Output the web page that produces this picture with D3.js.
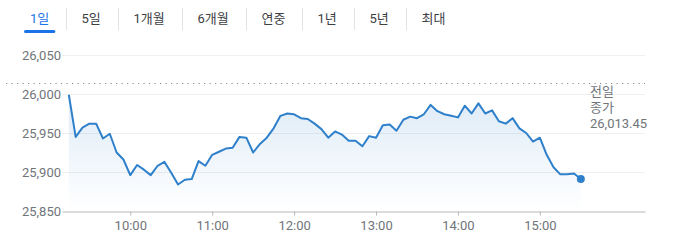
<!DOCTYPE html>
<html>
<head>
<meta charset="utf-8">
<script src="https://cdn.jsdelivr.net/npm/d3@7"></script>
<style>
	body { margin: 0; background: #fff; }
	svg { display: block; font-family: Roboto, 'Noto Sans CJK KR', sans-serif; }
</style>
</head>
<body>
<svg id="chart" width="680" height="244"></svg>
<script>
/*=================
=== Data
=================*/
const tabs = ['1일', '5일', '1개월', '6개월', '연중', '1년', '5년', '최대'];
const activeTab = '1일';

const times = [
	'09:15','09:20','09:25','09:30','09:35','09:40','09:45','09:50','09:55',
	'10:00','10:05','10:10','10:15','10:20','10:25','10:30','10:35','10:40','10:45','10:50','10:55',
	'11:00','11:05','11:10','11:15','11:20','11:25','11:30','11:35','11:40','11:45','11:50','11:55',
	'12:00','12:05','12:10','12:15','12:20','12:25','12:30','12:35','12:40','12:45','12:50','12:55',
	'13:00','13:05','13:10','13:15','13:20','13:25','13:30','13:35','13:40','13:45','13:50','13:55',
	'14:00','14:05','14:10','14:15','14:20','14:25','14:30','14:35','14:40','14:45','14:50','14:55',
	'15:00','15:05','15:10','15:15','15:20','15:25','15:30'
];
const prices = [
	25999, 25945, 25957, 25962, 25962, 25943, 25949, 25925, 25916,
	25896, 25909, 25903, 25896, 25908, 25913, 25899, 25884, 25890, 25891, 25914, 25908,
	25922, 25926, 25930, 25931, 25945, 25944, 25925, 25936, 25944, 25956, 25972, 25975,
	25974, 25969, 25968, 25962, 25955, 25944, 25952, 25948, 25940, 25940, 25933, 25946,
	25944, 25960, 25961, 25953, 25967, 25971, 25969, 25974, 25986, 25978, 25974, 25972,
	25970, 25985, 25975, 25988, 25975, 25979, 25965, 25962, 25969, 25956, 25950, 25939,
	25944, 25922, 25906, 25897, 25897, 25898, 25891
];
const prevClose = 26013.45;
const prevCloseLabel = ['전일', '종가'];
const yTicks = [25850, 25900, 25950, 26000, 26050];
const xTicks = ['10:00', '11:00', '12:00', '13:00', '14:00', '15:00'];
const xDomain = ['09:10', '16:17'];

/*=================
=== Setup
=================*/
const parseTime = d3.timeParse('%H:%M');
const data = times.map((t, i) => ({ time: parseTime(t), price: prices[i] }));

const blue = '#2f80cb';
const grey = '#70757a';

const plot = { left: 62, right: 645, top: 55, bottom: 211 };

const svg = d3.select('#chart');

const xScale = d3.scaleTime()
	.domain(xDomain.map(parseTime))
	.range([plot.left, plot.right]);
const yScale = d3.scaleLinear()
	.domain([yTicks[0], yTicks[yTicks.length - 1]])
	.range([plot.bottom, plot.top]);

/*=================
=== Tabs
=================*/
const tabG = svg.append('g');
let tx = 30;
tabs.forEach((label, i) => {
	const t = tabG.append('text')
		.attr('x', tx)
		.attr('y', 23)
		.attr('font-size', 13)
		.attr('fill', label === activeTab ? '#1a73e8' : '#3c4043')
		.text(label);
	const w = t.node().getComputedTextLength();
	if (label === activeTab) {
		tabG.append('rect')
			.attr('x', tx - 6)
			.attr('y', 30)
			.attr('width', w + 12)
			.attr('height', 3)
			.attr('rx', 1.5)
			.attr('fill', '#1a73e8');
	}
	if (i < tabs.length - 1) {
		const sx = Math.round(tx + w + 17) + 0.5;
		tabG.append('line')
			.attr('x1', sx).attr('x2', sx)
			.attr('y1', 8).attr('y2', 30)
			.attr('stroke', '#e3e3e3');
		tx = sx + 15;
	}
});

/*=================
=== Grid and axes
=================*/
svg.append('g')
	.selectAll('line')
	.data(yTicks.slice(1))
	.enter()
	.append('line')
		.attr('x1', plot.left)
		.attr('x2', plot.right)
		.attr('y1', d => Math.round(yScale(d)) + 0.5)
		.attr('y2', d => Math.round(yScale(d)) + 0.5)
		.attr('stroke', '#efefef');

svg.append('g')
	.selectAll('text')
	.data(yTicks)
	.enter()
	.append('text')
		.attr('x', plot.left - 1)
		.attr('y', d => yScale(d))
		.attr('dy', '0.35em')
		.attr('text-anchor', 'end')
		.attr('font-size', 13)
		.attr('fill', grey)
		.text(d => d3.format(',')(d));

const xAxis = svg.append('g')
	.attr('transform', `translate(0, ${Math.round(plot.bottom) + 0.5})`)
	.call(d3.axisBottom(xScale)
		.tickValues(xTicks.map(parseTime))
		.tickFormat(d3.timeFormat('%H:%M'))
		.tickSize(4)
		.tickPadding(5)
		.tickSizeOuter(0));
xAxis.select('.domain').attr('stroke', '#b8b8b8');
xAxis.selectAll('.tick line').attr('stroke', '#b8b8b8');
xAxis.selectAll('.tick text')
	.attr('font-family', 'Roboto, sans-serif')
	.attr('font-size', 13)
	.attr('fill', grey);

/*=================
=== Area + line
=================*/
const grad = svg.append('defs').append('linearGradient')
	.attr('id', 'fade')
	.attr('x1', 0).attr('x2', 0).attr('y1', 0).attr('y2', 1);
grad.append('stop').attr('offset', '0%').attr('stop-color', blue).attr('stop-opacity', 0.16);
grad.append('stop').attr('offset', '100%').attr('stop-color', blue).attr('stop-opacity', 0);

svg.append('path')
	.datum(data)
	.attr('fill', 'url(#fade)')
	.attr('d', d3.area()
		.x(d => xScale(d.time))
		.y0(plot.bottom)
		.y1(d => yScale(d.price)));

// previous close dotted line
svg.append('line')
	.attr('x1', 6)
	.attr('x2', plot.right)
	.attr('y1', yScale(prevClose))
	.attr('y2', yScale(prevClose))
	.attr('stroke', '#8a8a8a')
	.attr('stroke-width', 1.2)
	.attr('stroke-dasharray', '1.2,4.3');

svg.append('path')
	.datum(data)
	.attr('fill', 'none')
	.attr('stroke', blue)
	.attr('stroke-width', 2)
	.attr('stroke-linejoin', 'round')
	.attr('d', d3.line()
		.x(d => xScale(d.time))
		.y(d => yScale(d.price)));

const last = data[data.length - 1];
svg.append('circle')
	.attr('cx', xScale(last.time))
	.attr('cy', yScale(last.price))
	.attr('r', 4)
	.attr('fill', blue);

/*=================
=== Previous close label
=================*/
const lbl = svg.append('text')
	.attr('x', 590)
	.attr('font-size', 13)
	.attr('fill', grey);
prevCloseLabel.concat([d3.format(',.2f')(prevClose)]).forEach((s, i) => {
	lbl.append('tspan')
		.attr('x', 590)
		.attr('y', 96 + i * 16)
		.text(s);
});
</script>
</body>
</html>
